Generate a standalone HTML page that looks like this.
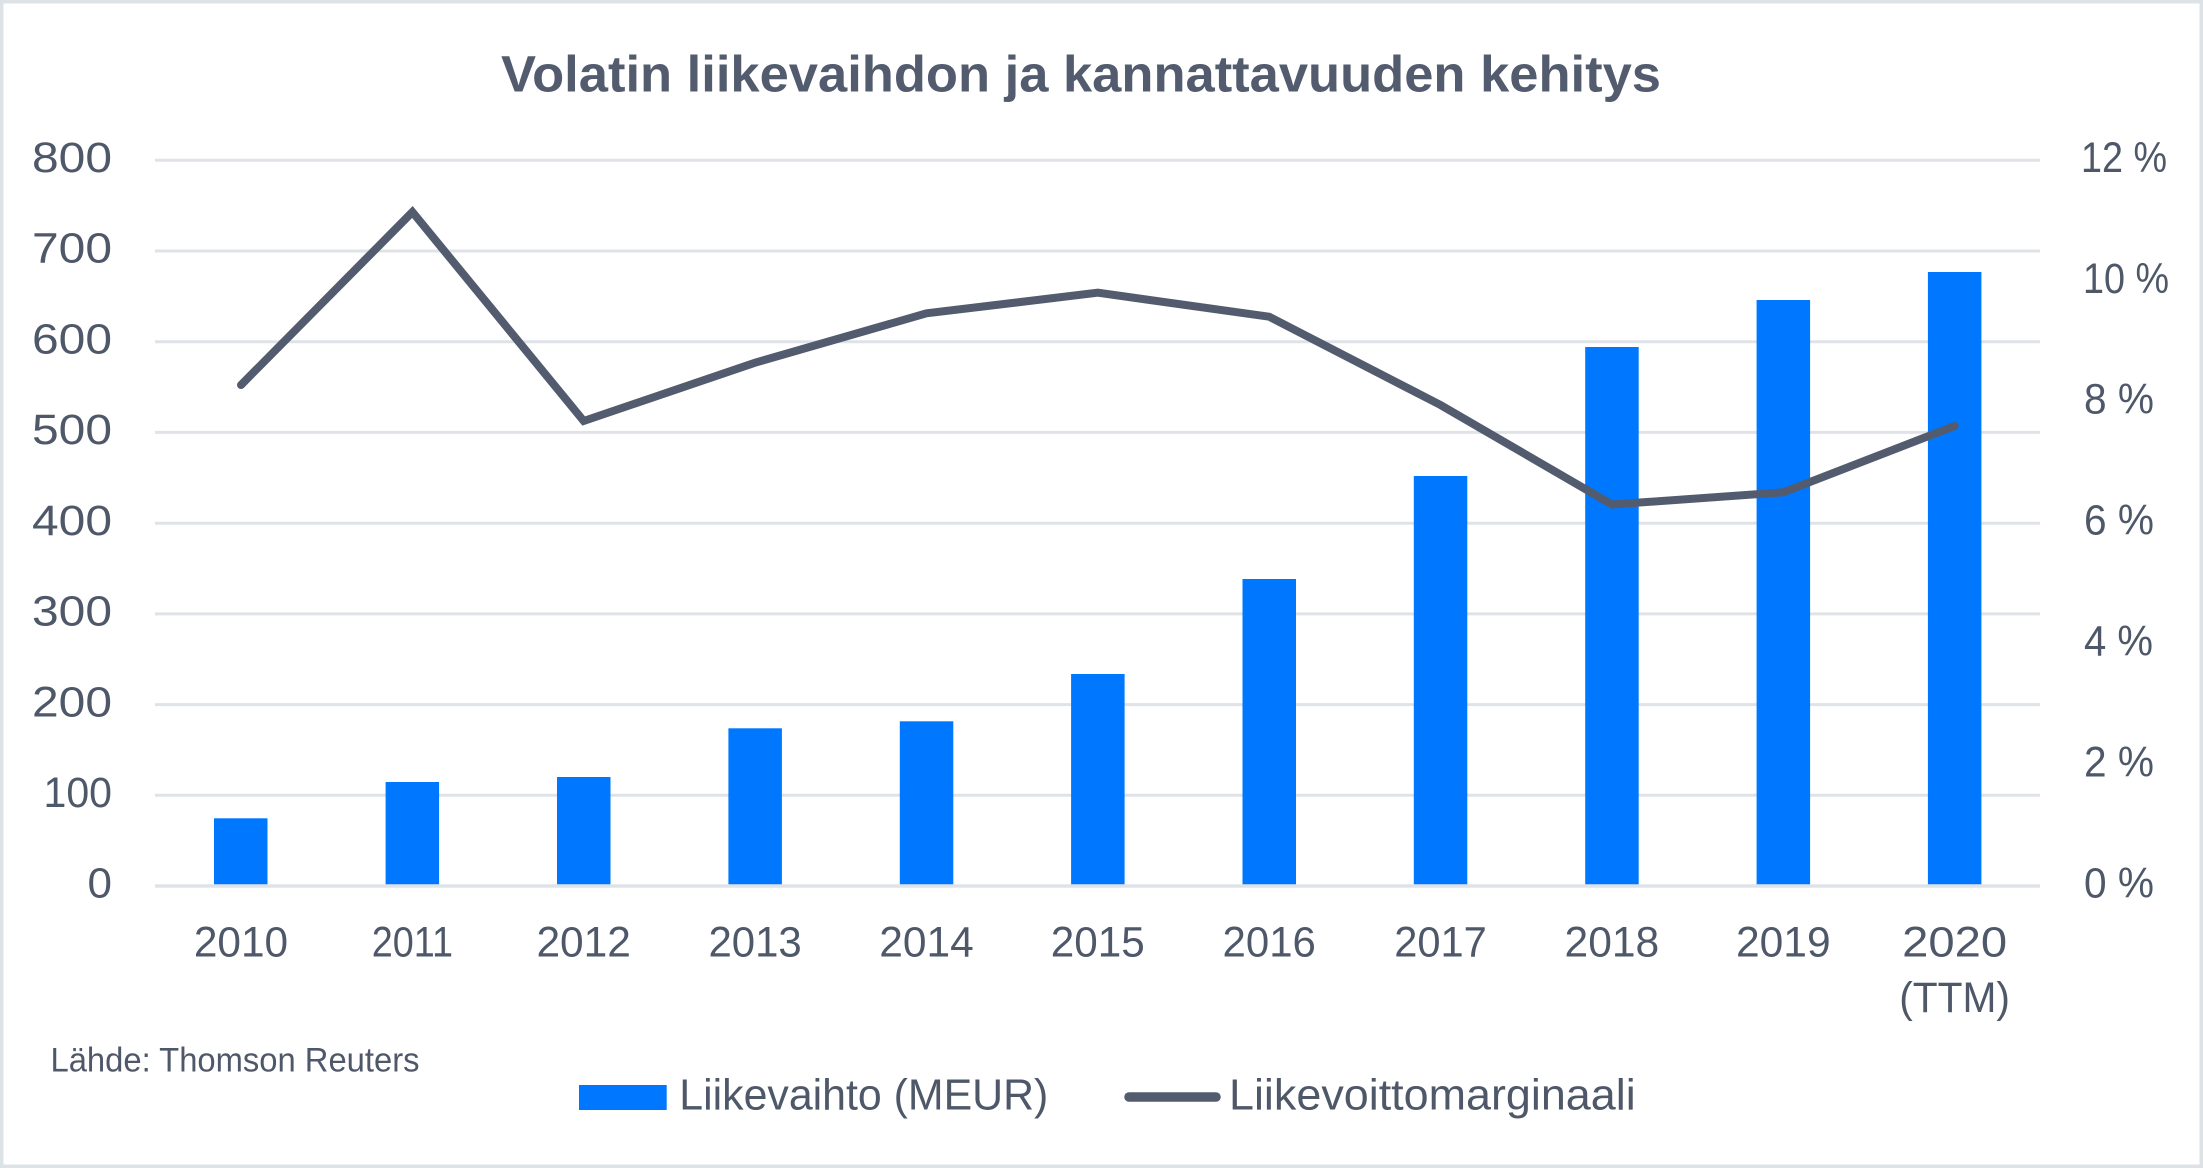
<!DOCTYPE html>
<html>
<head>
<meta charset="utf-8">
<style>
  html, body { margin: 0; padding: 0; background: #ffffff; }
  svg { display: block; }
  text { font-family: "Liberation Sans", "DejaVu Sans", sans-serif; fill: #4e5869; }
</style>
</head>
<body>
<svg width="2203" height="1168" viewBox="0 0 2203 1168" xmlns="http://www.w3.org/2000/svg">
  <rect x="0" y="0" width="2203" height="1168" fill="#ffffff"/>
  <rect x="1.75" y="1.75" width="2199.5" height="1164.5" fill="none" stroke="#dde2e7" stroke-width="3.5"/>

  <!-- Title -->
  <text x="501" y="91.7" font-size="51" font-weight="bold" style="fill:#525c6e" textLength="1160" lengthAdjust="spacingAndGlyphs">Volatin liikevaihdon ja kannattavuuden kehitys</text>

  <!-- Gridlines -->
  <g stroke="#dfe3e8" stroke-width="3">
    <line x1="155" y1="160.3" x2="2040" y2="160.3"/>
    <line x1="155" y1="251.0" x2="2040" y2="251.0"/>
    <line x1="155" y1="341.7" x2="2040" y2="341.7"/>
    <line x1="155" y1="432.4" x2="2040" y2="432.4"/>
    <line x1="155" y1="523.2" x2="2040" y2="523.2"/>
    <line x1="155" y1="613.9" x2="2040" y2="613.9"/>
    <line x1="155" y1="704.6" x2="2040" y2="704.6"/>
    <line x1="155" y1="795.3" x2="2040" y2="795.3"/>
  </g>

  <!-- Left axis labels -->
  <g font-size="43" text-anchor="end">
    <text x="112" y="172" textLength="80" lengthAdjust="spacingAndGlyphs">800</text>
    <text x="112" y="262.7" textLength="80" lengthAdjust="spacingAndGlyphs">700</text>
    <text x="112" y="353.4" textLength="80" lengthAdjust="spacingAndGlyphs">600</text>
    <text x="112" y="444.1" textLength="80" lengthAdjust="spacingAndGlyphs">500</text>
    <text x="112" y="534.9" textLength="80" lengthAdjust="spacingAndGlyphs">400</text>
    <text x="112" y="625.6" textLength="80" lengthAdjust="spacingAndGlyphs">300</text>
    <text x="112" y="716.3" textLength="80" lengthAdjust="spacingAndGlyphs">200</text>
    <text x="112" y="807" textLength="68.5" lengthAdjust="spacingAndGlyphs">100</text>
    <text x="112" y="897.7" textLength="24.5" lengthAdjust="spacingAndGlyphs">0</text>
  </g>

  <!-- Right axis labels -->
  <g font-size="43">
    <text x="2081" y="171.8" textLength="86" lengthAdjust="spacingAndGlyphs">12 %</text>
    <text x="2083" y="292.8" textLength="86" lengthAdjust="spacingAndGlyphs">10 %</text>
    <text x="2084" y="413.7" textLength="70" lengthAdjust="spacingAndGlyphs">8 %</text>
    <text x="2084" y="534.7" textLength="70" lengthAdjust="spacingAndGlyphs">6 %</text>
    <text x="2084" y="655.6" textLength="69" lengthAdjust="spacingAndGlyphs">4 %</text>
    <text x="2084" y="776.6" textLength="70" lengthAdjust="spacingAndGlyphs">2 %</text>
    <text x="2084" y="897.5" textLength="70" lengthAdjust="spacingAndGlyphs">0 %</text>
  </g>

  <!-- Bars -->
  <g fill="#0077ff">
    <rect x="214.0" y="818.3" width="53.5" height="67.7"/>
    <rect x="385.6" y="782.0" width="53.5" height="104.0"/>
    <rect x="557.0" y="777.0" width="53.5" height="109.0"/>
    <rect x="728.4" y="728.3" width="53.5" height="157.7"/>
    <rect x="899.8" y="721.3" width="53.5" height="164.7"/>
    <rect x="1071.1" y="674.0" width="53.5" height="212.0"/>
    <rect x="1242.5" y="579.0" width="53.5" height="307.0"/>
    <rect x="1413.8" y="476.0" width="53.5" height="410.0"/>
    <rect x="1585.2" y="347.0" width="53.5" height="539.0"/>
    <rect x="1756.6" y="300.0" width="53.5" height="586.0"/>
    <rect x="1927.9" y="272.0" width="53.5" height="614.0"/>
  </g>

  <!-- Zero line -->
  <line x1="155" y1="886" x2="2040" y2="886" stroke="#dfe3e8" stroke-width="3.5"/>

  <!-- Margin line -->
  <polyline fill="none" stroke="#525c6e" stroke-width="8" stroke-linecap="round" stroke-linejoin="miter" stroke-miterlimit="6"
    points="241.0,385 412.4,212 583.7,421 755.1,362.7 926.5,313.3 1097.8,292.7 1269.2,316.7 1440.5,405 1611.9,504.5 1783.3,492.3 1954.6,426"/>

  <!-- X labels -->
  <g font-size="43" text-anchor="middle">
    <text x="241" y="956.7" textLength="94.3" lengthAdjust="spacingAndGlyphs">2010</text>
    <text x="412.4" y="956.7" textLength="81.3" lengthAdjust="spacingAndGlyphs">2011</text>
    <text x="583.7" y="956.7" textLength="94.5" lengthAdjust="spacingAndGlyphs">2012</text>
    <text x="755.1" y="956.7" textLength="93.3" lengthAdjust="spacingAndGlyphs">2013</text>
    <text x="926.5" y="956.7" textLength="94.5" lengthAdjust="spacingAndGlyphs">2014</text>
    <text x="1097.8" y="956.7" textLength="94" lengthAdjust="spacingAndGlyphs">2015</text>
    <text x="1269.2" y="956.7" textLength="93.3" lengthAdjust="spacingAndGlyphs">2016</text>
    <text x="1440.5" y="956.7" textLength="92.6" lengthAdjust="spacingAndGlyphs">2017</text>
    <text x="1611.9" y="956.7" textLength="94.7" lengthAdjust="spacingAndGlyphs">2018</text>
    <text x="1783.3" y="956.7" textLength="94.7" lengthAdjust="spacingAndGlyphs">2019</text>
    <text x="1954.6" y="956.7" textLength="105" lengthAdjust="spacingAndGlyphs">2020</text>
    <text x="1954.6" y="1012" textLength="110.8" lengthAdjust="spacingAndGlyphs">(TTM)</text>
  </g>

  <!-- Source -->
  <text x="50.5" y="1071.7" font-size="34" textLength="369" lengthAdjust="spacingAndGlyphs">Lähde: Thomson Reuters</text>

  <!-- Legend -->
  <rect x="579" y="1085" width="87.7" height="25" fill="#0077ff"/>
  <text x="679.3" y="1109.3" font-size="44" textLength="369" lengthAdjust="spacingAndGlyphs">Liikevaihto (MEUR)</text>
  <line x1="1129" y1="1097" x2="1216" y2="1097" stroke="#525c6e" stroke-width="9.5" stroke-linecap="round"/>
  <text x="1229" y="1109.3" font-size="44" textLength="406.7" lengthAdjust="spacingAndGlyphs">Liikevoittomarginaali</text>
</svg>
</body>
</html>
